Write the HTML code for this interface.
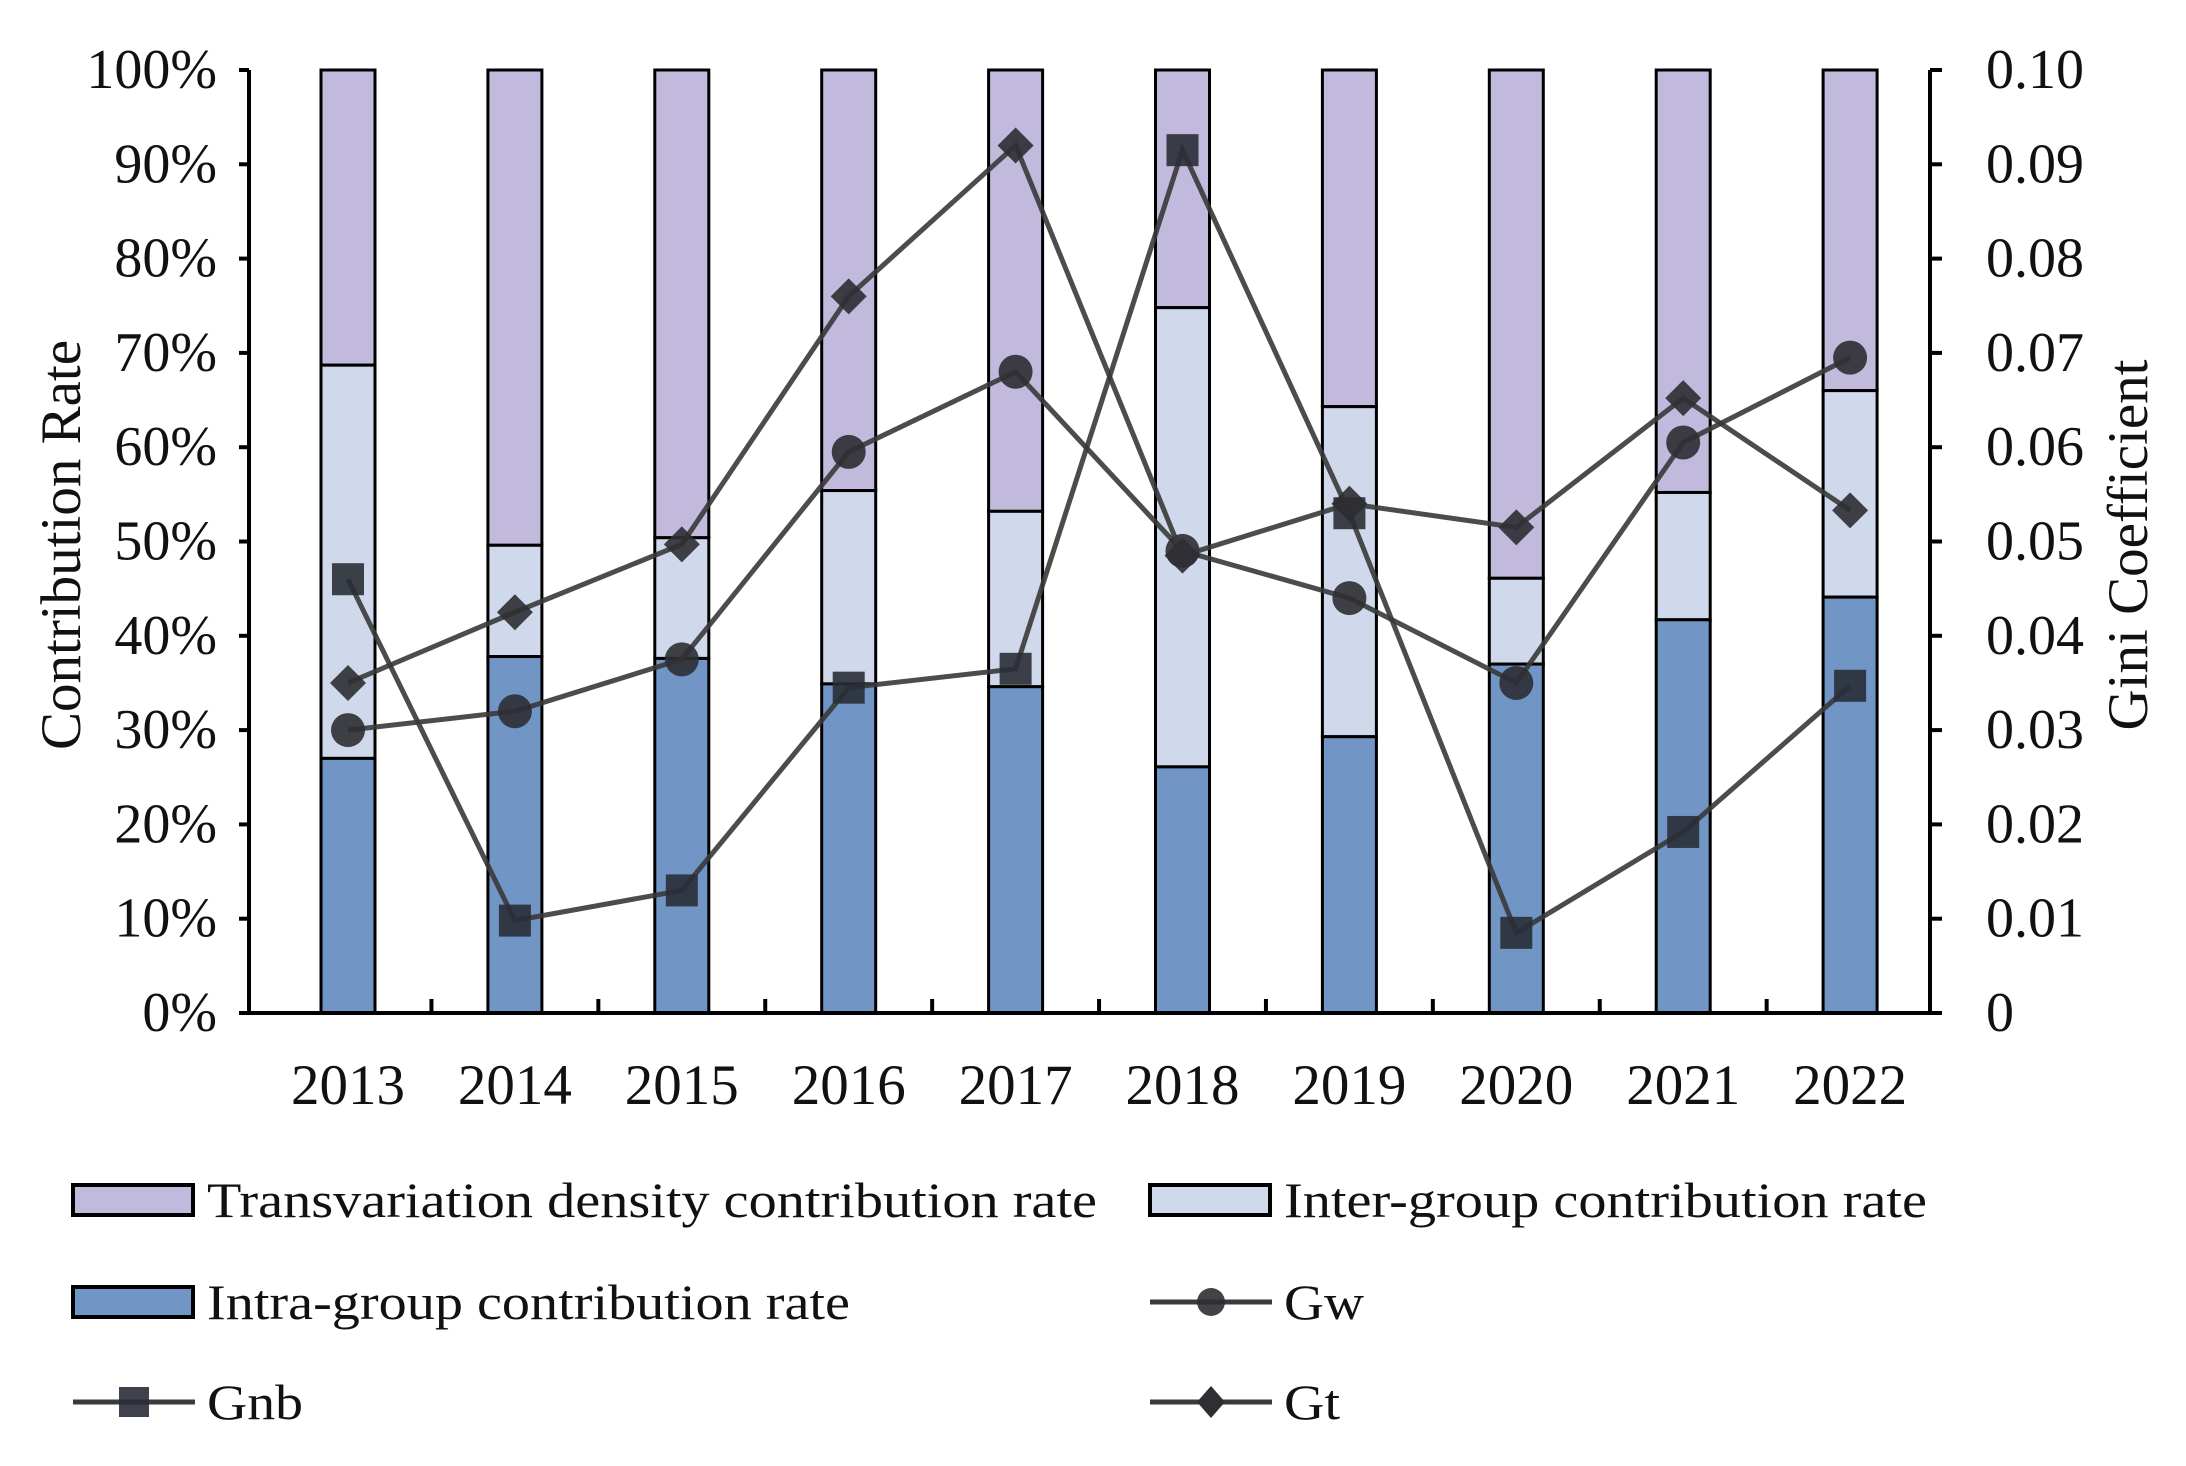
<!DOCTYPE html>
<html><head><meta charset="utf-8"><style>
html,body{margin:0;padding:0;background:#fff;}
svg{display:block;font-family:"Liberation Serif",serif;}
</style></head><body>
<svg id="chart" width="2186" height="1466" viewBox="0 0 2186 1466" xmlns="http://www.w3.org/2000/svg">
<rect width="2186" height="1466" fill="#fff"/>
<g id="bars"></g>
<g id="lines"></g>
<g id="axes"></g>
<g id="legend"></g>
</svg>
<script>
const years = ["2013","2014","2015","2016","2017","2018","2019","2020","2021","2022"];
const intraRate = [27.0, 37.8, 37.6, 34.9, 34.6, 26.1, 29.3, 37.0, 41.7, 44.1];
const interTop = [68.7, 49.6, 50.4, 55.4, 53.2, 74.8, 64.3, 46.1, 55.2, 66.0];
const gw = [0.030, 0.032, 0.0375, 0.0595, 0.068, 0.049, 0.044, 0.035, 0.0605, 0.0695];
const gnb = [0.046, 0.0098, 0.013, 0.0345, 0.0365, 0.0915, 0.053, 0.0085, 0.0192, 0.0347];
const gt = [0.035, 0.0425, 0.0497, 0.076, 0.092, 0.0485, 0.054, 0.0515, 0.0652, 0.0533];
const leftTicks = ["0%","10%","20%","30%","40%","50%","60%","70%","80%","90%","100%"];
const rightTicks = ["0","0.01","0.02","0.03","0.04","0.05","0.06","0.07","0.08","0.09","0.10"];

const NS="http://www.w3.org/2000/svg";
const X0=249, X1=1930, Y0=1013, Y1=70;
const step=166.9;
const xc=i=>348+step*i;
const yPct=v=>Y0-(Y0-Y1)*v/100;
const yG=v=>Y0-(Y0-Y1)*v/0.1;
function mk(tag,attrs,parent){const e=document.createElementNS(NS,tag);for(const k in attrs)e.setAttribute(k,attrs[k]);parent.appendChild(e);return e;}
const bars=document.getElementById('bars'),lines=document.getElementById('lines'),axes=document.getElementById('axes'),legend=document.getElementById('legend');
const BW=54;
years.forEach((y,i)=>{
  const x=xc(i)-BW/2;
  let r=mk('rect',{x:x,y:yPct(100),width:BW,height:yPct(interTop[i])-yPct(100),fill:'#c1badd',stroke:'#000','stroke-width':3},bars);
  
  
  r=mk('rect',{x:x,y:yPct(interTop[i]),width:BW,height:yPct(intraRate[i])-yPct(interTop[i]),fill:'#d0d9eb',stroke:'#000','stroke-width':3},bars);
  
  
  r=mk('rect',{x:x,y:yPct(intraRate[i]),width:BW,height:yPct(0)-yPct(intraRate[i]),fill:'#7196c6',stroke:'#000','stroke-width':3},bars);
  
  
});
function series(vals,name,marker){
  const g=mk('g',{},lines);
  
  
  const pts=vals.map((v,i)=>xc(i)+','+yG(v)).join(' ');
  mk('polyline',{points:pts,fill:'none',stroke:'#383838','stroke-width':5,'stroke-opacity':0.9},g);
  vals.forEach((v,i)=>{
    const cx=xc(i),cy=yG(v);let m;
    if(marker==='circle')m=mk('circle',{cx:cx,cy:cy,r:17,fill:'#2e2e33','fill-opacity':0.9},g);
    else if(marker==='square')m=mk('rect',{x:cx-16,y:cy-16,width:32,height:32,fill:'#2a2d36','fill-opacity':0.9},g);
    else m=mk('polygon',{points:`${cx},${cy-18} ${cx+18},${cy} ${cx},${cy+18} ${cx-18},${cy}`,fill:'#2e2e33','fill-opacity':0.9},g);
    
    
  });
}
series(gw,'gw','circle');
series(gnb,'gnb','square');
series(gt,'gt','diamond');
mk('line',{x1:X0,y1:Y1,x2:X0,y2:Y0,stroke:'#000','stroke-width':4},axes);
mk('line',{x1:X1,y1:Y1,x2:X1,y2:Y0,stroke:'#000','stroke-width':4},axes);
mk('line',{x1:X0,y1:Y0,x2:X1,y2:Y0,stroke:'#000','stroke-width':4},axes);
leftTicks.forEach((t,i)=>{
  const y=yPct(i*10);
  mk('line',{x1:X0-10,y1:y,x2:X0,y2:y,stroke:'#000','stroke-width':4},axes);
  const tx=mk('text',{x:217,y:y+18,'font-size':56,'text-anchor':'end',fill:'#111'},axes);tx.textContent=t;
  
  
});
rightTicks.forEach((t,i)=>{
  const y=yG(i*0.01);
  mk('line',{x1:X1,y1:y,x2:X1+12,y2:y,stroke:'#000','stroke-width':4},axes);
  const tx=mk('text',{x:1986,y:y+18,'font-size':56,fill:'#111'},axes);tx.textContent=t;
  
  
});
years.forEach((y,i)=>{
  if(i>0){const tx0=xc(i)-step/2;mk('line',{x1:tx0,y1:Y0,x2:tx0,y2:Y0-14,stroke:'#000','stroke-width':4},axes);}
  const tx=mk('text',{x:xc(i),y:1104,'font-size':57,'text-anchor':'middle',fill:'#111'},axes);tx.textContent=y;
  
  
});
let t=mk('text',{x:0,y:0,'font-size':57,'text-anchor':'middle',fill:'#111',transform:'translate(80,545) rotate(-90)'},axes);t.textContent='Contribution Rate';


t=mk('text',{x:0,y:0,'font-size':57,'text-anchor':'middle',fill:'#111',transform:'translate(2147,545) rotate(-90)'},axes);t.textContent='Gini Coefficient';


function legSwatch(x,y,fill,label,w,name){
  const g=mk('g',{},legend);
  
  
  mk('rect',{x:x,y:y-15,width:120,height:30,fill:fill,stroke:'#000','stroke-width':4},g);
  const tx=mk('text',{x:x+134,y:y+17,'font-size':50,fill:'#111',textLength:w,lengthAdjust:'spacingAndGlyphs'},g);tx.textContent=label;
}
function legLine(x,y,marker,label,w,name){
  const g=mk('g',{},legend);
  
  
  mk('line',{x1:x,y1:y,x2:x+122,y2:y,stroke:'#3a3a3a','stroke-width':5},g);
  const cx=x+61;
  if(marker==='circle')mk('circle',{cx:cx,cy:y,r:14,fill:'#2e2e33','fill-opacity':0.9},g);
  else if(marker==='square')mk('rect',{x:cx-15,y:y-15,width:30,height:30,fill:'#2a2d36','fill-opacity':0.9},g);
  else mk('polygon',{points:`${cx},${y-16} ${cx+14},${y} ${cx},${y+16} ${cx-14},${y}`,fill:'#2e2e33'},g);
  const tx=mk('text',{x:x+134,y:y+17,'font-size':50,fill:'#111',textLength:w,lengthAdjust:'spacingAndGlyphs'},g);tx.textContent=label;
}
legSwatch(73,1200,'#c1badd','Transvariation density contribution rate',890,'transvariation');
legSwatch(1150,1200,'#d0d9eb','Inter-group contribution rate',643,'inter-group');
legSwatch(73,1302,'#7196c6','Intra-group contribution rate',643,'intra-group');
legLine(1150,1302,'circle','Gw',80,'gw');
legLine(73,1402,'square','Gnb',96,'gnb');
legLine(1150,1402,'diamond','Gt',56,'gt');
</script>
</body></html>
